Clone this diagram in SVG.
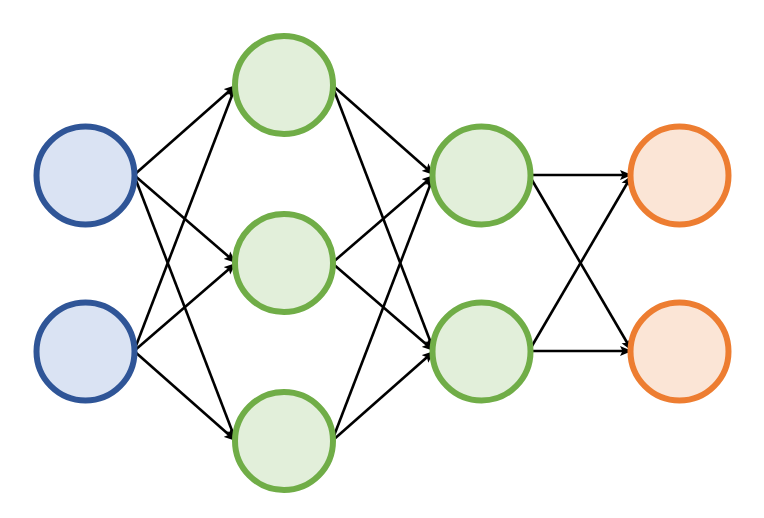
<svg xmlns="http://www.w3.org/2000/svg" width="764" height="518" viewBox="0 0 764 518">
<defs>
<marker id="ah" markerUnits="userSpaceOnUse" markerWidth="13" markerHeight="11" viewBox="0 0 13 11" refX="12" refY="5.5" orient="auto">
<path d="M0,0.5 L12,5.5 L0,10.5 L2.5,5.5 Z" fill="#000"/>
</marker>
<style>
.c{stroke-width:6}
.in{fill:#DAE3F3;stroke:#2F5597}
.hd{fill:#E2EFDA;stroke:#70AD47}
.out{fill:#FBE5D6;stroke:#ED7D31}
.e{stroke:#000;stroke-width:2.6;fill:none;marker-end:url(#ah)}
</style>
</defs>
<rect width="764" height="518" fill="#fff"/>
<g id="connectors">
<line class="e" x1="134" y1="175" x2="236" y2="85"/>
<line class="e" x1="134" y1="175" x2="236" y2="263"/>
<line class="e" x1="134" y1="175" x2="236" y2="441"/>
<line class="e" x1="134" y1="351" x2="236" y2="85"/>
<line class="e" x1="134" y1="351" x2="236" y2="263"/>
<line class="e" x1="134" y1="351" x2="236" y2="441"/>
<line class="e" x1="332" y1="85" x2="434" y2="175"/>
<line class="e" x1="332" y1="85" x2="434" y2="351"/>
<line class="e" x1="332" y1="263" x2="434" y2="175"/>
<line class="e" x1="332" y1="263" x2="434" y2="351"/>
<line class="e" x1="332" y1="441" x2="434" y2="175"/>
<line class="e" x1="332" y1="441" x2="434" y2="351"/>
<line class="e" x1="529" y1="175" x2="632" y2="175"/>
<line class="e" x1="529" y1="175" x2="632" y2="351"/>
<line class="e" x1="529" y1="351" x2="632" y2="175"/>
<line class="e" x1="529" y1="351" x2="632" y2="351"/>
</g>
<g id="in1"><circle class="c in" cx="85.5" cy="175.5" r="49"/></g>
<g id="in2"><circle class="c in" cx="85.5" cy="351.5" r="49"/></g>
<g id="h1a"><circle class="c hd" cx="284" cy="85" r="49"/></g>
<g id="h1b"><circle class="c hd" cx="284" cy="263" r="49"/></g>
<g id="h1c"><circle class="c hd" cx="284" cy="441" r="49"/></g>
<g id="h2a"><circle class="c hd" cx="481.5" cy="175.5" r="49"/></g>
<g id="h2b"><circle class="c hd" cx="481.5" cy="351.5" r="49"/></g>
<g id="o1"><circle class="c out" cx="679.5" cy="175.5" r="49"/></g>
<g id="o2"><circle class="c out" cx="679.5" cy="351.5" r="49"/></g>
</svg>
